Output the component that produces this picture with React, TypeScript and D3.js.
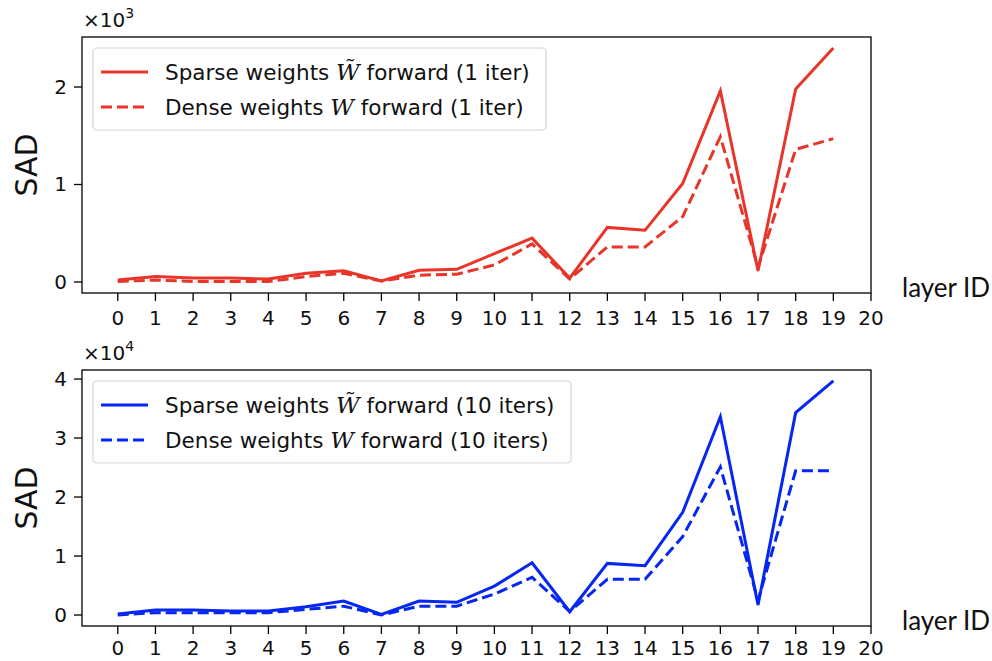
import React from "react";
import * as d3 from "d3";

// ---------- data ----------
const layers = d3.range(0, 20);
const xTickValues = d3.range(0, 21);
// top panel, values in units of 10^3
const sparse1Iter = [0.02, 0.055, 0.04, 0.04, 0.03, 0.09, 0.115, 0.01, 0.12, 0.13, 0.29, 0.45, 0.04, 0.56, 0.53, 1.01, 1.96, 0.115, 1.98, 2.4];
const dense1Iter = [0.005, 0.02, 0.005, 0.005, 0.005, 0.055, 0.09, 0.01, 0.07, 0.08, 0.175, 0.39, 0.03, 0.36, 0.36, 0.67, 1.49, 0.15, 1.36, 1.47];
// bottom panel, values in units of 10^4
const sparse10Iters = [0.017, 0.085, 0.085, 0.068, 0.07, 0.14, 0.237, 0.01, 0.237, 0.215, 0.49, 0.886, 0.056, 0.875, 0.836, 1.74, 3.36, 0.17, 3.43, 3.97];
const dense10Iters = [0.0, 0.04, 0.04, 0.04, 0.04, 0.096, 0.15, 0.0, 0.15, 0.15, 0.356, 0.64, 0.06, 0.605, 0.605, 1.33, 2.51, 0.25, 2.445, 2.445];
const topYTicks = [0, 1, 2];
const bottomYTicks = [0, 1, 2, 3, 4];

const RED = "#e8352a";
const BLUE = "#0626f2";
const FONT = "DejaVu Sans, sans-serif";

type PanelProps = {
  top: number;
  bottom: number;
  yDomain: [number, number];
  yTicks: number[];
  solid: number[];
  dashed: number[];
  color: string;
  exponent: string;
  labelSolid: string;
  labelDashed: string;
  legendW: number;
  xLabelOffset: number;
};

function Panel(p: PanelProps) {
  const left = 82;
  const right = 871;
  const x = d3.scaleLinear().domain([-0.95, 20]).range([left, right]);
  const y = d3.scaleLinear().domain(p.yDomain).range([p.bottom, p.top]);
  const line = d3
    .line<number>()
    .x((_, i) => x(layers[i]))
    .y((d) => y(d));
  const legX = 93;
  const legY = p.top + 11;
  const row1 = legY + 24;
  const row2 = legY + 59;
  const midY = (p.top + p.bottom) / 2;
  const Wlabel = (tilde: boolean, rest: string, prefix: string, yy: number) => (
    <text x={legX + 72} y={yy + 7.5} fontFamily={FONT} fontSize={21.5} fill="#111">
      {prefix}
      <tspan fontFamily="DejaVu Serif, serif" fontStyle="italic" fontSize={23}>
        {tilde ? "W\u0303" : "W"}
      </tspan>
      {rest}
    </text>
  );
  return (
    <g>
      {/* lines */}
      <path d={line(p.solid) || ""} fill="none" stroke={p.color} strokeWidth={3} strokeLinejoin="miter" />
      <path d={line(p.dashed) || ""} fill="none" stroke={p.color} strokeWidth={3} strokeDasharray="11,5" />
      {/* frame */}
      <rect x={left} y={p.top} width={right - left} height={p.bottom - p.top} fill="none" stroke="#000" strokeWidth={1.3} />
      {/* y ticks */}
      {p.yTicks.map((t) => (
        <g key={"y" + t}>
          <line x1={left - 8} x2={left} y1={y(t)} y2={y(t)} stroke="#000" strokeWidth={1.3} />
          <text x={left - 15} y={y(t) + 7} textAnchor="end" fontFamily={FONT} fontSize={20} fill="#111">
            {t}
          </text>
        </g>
      ))}
      {/* x ticks */}
      {xTickValues.map((t) => (
        <g key={"x" + t}>
          <line x1={x(t)} x2={x(t)} y1={p.bottom} y2={p.bottom + 8} stroke="#000" strokeWidth={1.3} />
          <text x={x(t)} y={p.bottom + p.xLabelOffset} textAnchor="middle" fontFamily={FONT} fontSize={20} fill="#111">
            {t}
          </text>
        </g>
      ))}
      {/* exponent */}
      <text x={83} y={p.top - 10} fontFamily={FONT} fontSize={20} fill="#111">
        ×10
        <tspan fontSize={14} dy={-9}>
          {p.exponent}
        </tspan>
      </text>
      {/* y label */}
      <text
        transform={`translate(37,${midY}) rotate(-90)`}
        textAnchor="middle"
        fontFamily={FONT}
        fontSize={30}
        fill="#111"
      >
        SAD
      </text>
      {/* x label */}
      <text x={902} y={p.bottom + 4} fontFamily="Lato, sans-serif" fontSize={26} fill="#111">
        layer ID
      </text>
      {/* legend */}
      <rect x={legX} y={legY} width={p.legendW} height={82} rx={4} fill="#fff" fillOpacity={0.8} stroke="#d5d5d5" strokeWidth={1.2} />
      <line x1={legX + 8} x2={legX + 55} y1={row1} y2={row1} stroke={p.color} strokeWidth={3} />
      <line x1={legX + 8} x2={legX + 55} y1={row2} y2={row2} stroke={p.color} strokeWidth={3} strokeDasharray="11,5" />
      {Wlabel(true, " forward " + p.labelSolid, "Sparse weights ", row1)}
      {Wlabel(false, " forward " + p.labelDashed, "Dense weights ", row2)}
    </g>
  );
}

export default function App() {
  return (
    <svg width={992} height={661} style={{ position: "absolute", left: 0, top: 0, background: "#fff" }}>
      <rect width={992} height={661} fill="#fff" />
      <Panel
        top={37}
        bottom={293}
        yDomain={[-0.113, 2.513]}
        yTicks={topYTicks}
        solid={sparse1Iter}
        dashed={dense1Iter}
        color={RED}
        exponent="3"
        labelSolid="(1 iter)"
        labelDashed="(1 iter)"
        legendW={453}
        xLabelOffset={32}
      />
      <Panel
        top={370}
        bottom={626}
        yDomain={[-0.186, 4.153]}
        yTicks={bottomYTicks}
        solid={sparse10Iters}
        dashed={dense10Iters}
        color={BLUE}
        exponent="4"
        labelSolid="(10 iters)"
        labelDashed="(10 iters)"
        legendW={478}
        xLabelOffset={29}
      />
    </svg>
  );
}
